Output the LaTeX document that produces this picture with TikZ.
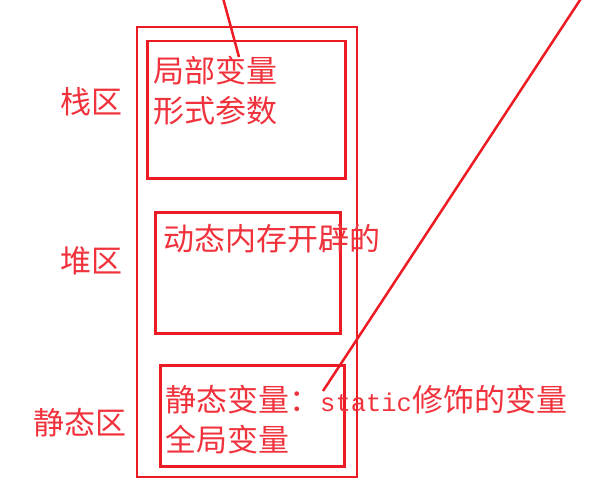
\documentclass[tikz,border=0pt]{standalone}
\usepackage{fontspec}
\setmainfont{Noto Sans CJK SC}
\newfontfamily\monofnt{Liberation Mono}
\definecolor{redline}{RGB}{237,28,36}
\definecolor{redtext}{RGB}{240,50,60}
\begin{document}
\begin{tikzpicture}[x=1pt,y=-1pt,
  box/.style={draw=redline,line width=2.5pt,inner sep=0pt},
  lbl/.style={text=redtext,font=\fontsize{31}{31}\selectfont,inner sep=0pt,anchor=west},
  conn/.style={draw=redline,line width=2.5pt}]
\useasboundingbox (0,0) rectangle (594,495);
% boxes
\draw[box] (137,27) rectangle (357,477);
\node[box,minimum width=198pt,minimum height=137pt,anchor=north west] (stack) at (146,40) {};
\node[box,minimum width=185pt,minimum height=121pt,anchor=north west] (heap) at (154,211) {};
\node[box,minimum width=184pt,minimum height=101pt,anchor=north west] (static) at (159,364) {};
% labels
\node[lbl] (t1) at (153,71) {局部变量};
\node[lbl] (t2) at (153,111) {形式参数};
\node[lbl] (t3) at (163,239) {动态内存开辟的};
\node[lbl] (t4) at (165,400) {静态变量：{\monofnt\fontsize{25.5}{25.5}\selectfont static}修饰的变量};
\node[lbl] (t5) at (165,440) {全局变量};
\node[lbl] (l1) at (60,102) {栈区};
\node[lbl] (l2) at (60,261) {堆区};
\node[lbl] (l3) at (33,423) {静态区};
% connectors
\coordinate (a1) at (223,-2);
\coordinate (a2) at (239,57);
\coordinate (b1) at (582,-3);
\coordinate (b2) at (323,391);
\draw[conn] (a1) -- (a2);
\draw[conn] (b1) -- (b2);
\end{tikzpicture}
\end{document}
